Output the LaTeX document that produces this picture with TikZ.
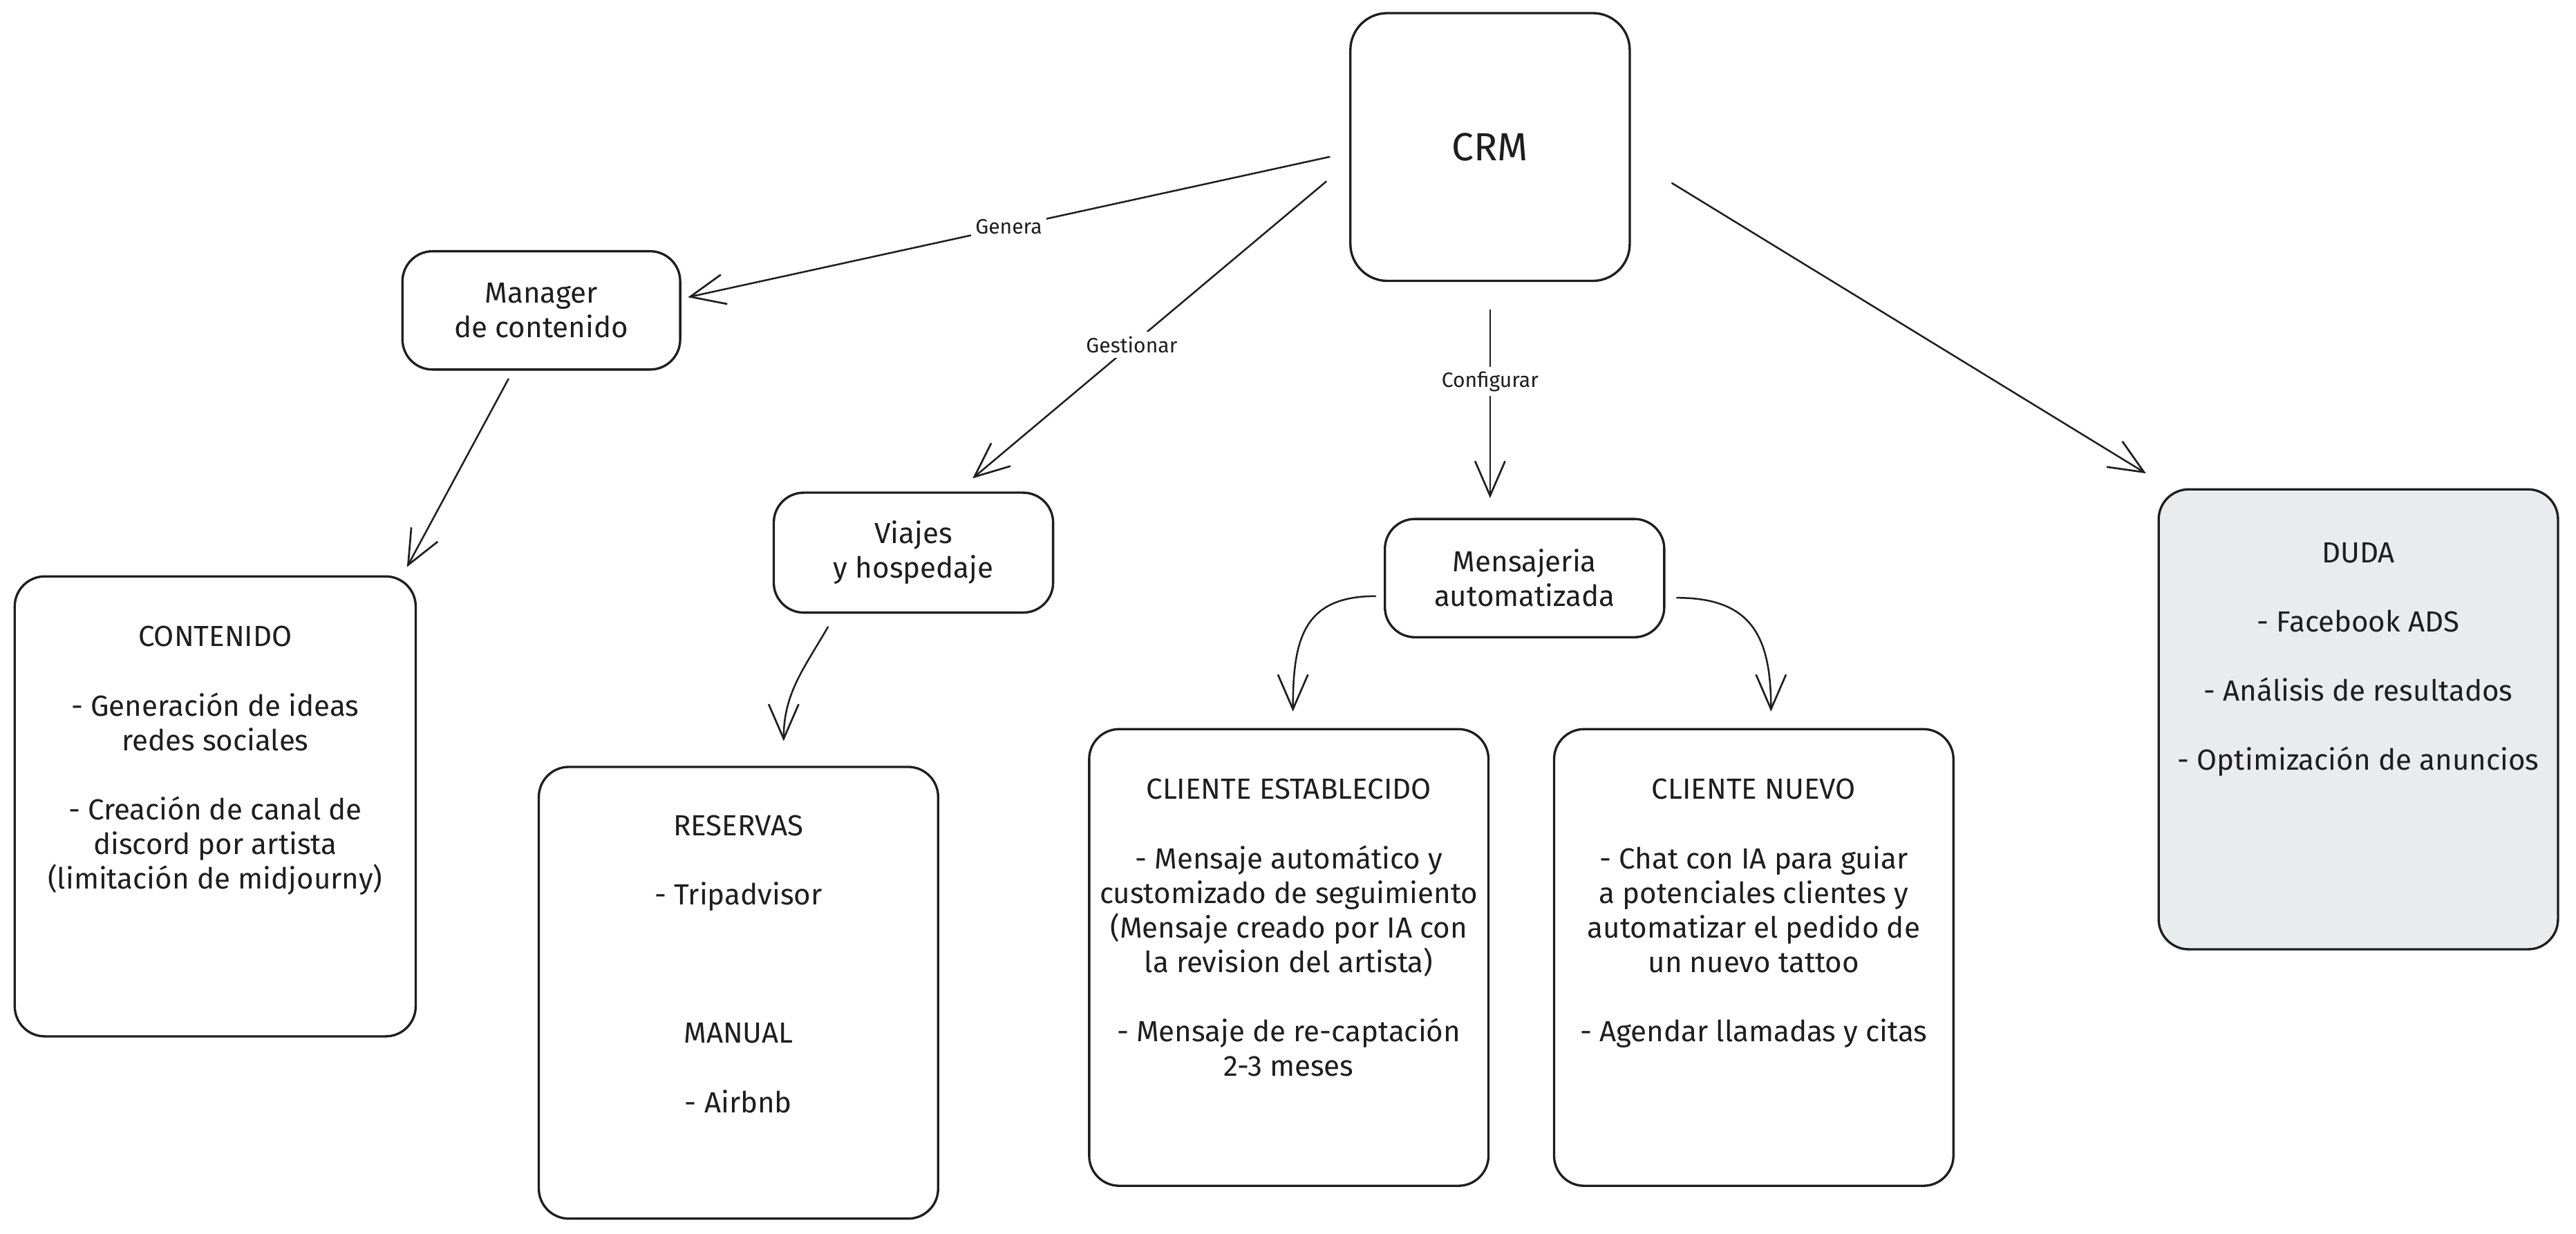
\documentclass[tikz,border=0pt]{standalone}
\usepackage{fontspec}
\setmainfont{Fira Sans}
\usetikzlibrary{arrows.meta,calc}
\definecolor{ink}{HTML}{1E1E1E}
\definecolor{dudafill}{HTML}{E9ECEF}
\begin{document}
\begin{tikzpicture}[x=0.025cm,y=-0.025cm,
  box/.style={draw=ink, line width=1pt, rounded corners=13pt, inner sep=0pt, fill=white,
    text=ink, align=center, font=\fontsize{12.6}{15}\selectfont},
  txt/.style={text=ink, align=center, inner sep=0pt, font=\fontsize{12.6}{15}\selectfont, anchor=north},
  lbl/.style={text=ink, fill=white, inner sep=2pt, font=\fontsize{9}{11}\selectfont},
  arr/.style={draw=ink, line width=0.75pt, line cap=round, -{Straight Barb[length=15pt,width=13pt,line width=0.8pt]}},
]
\useasboundingbox[fill=white] (0,0) rectangle (1568,751);

% top level
\node[box, rounded corners=16pt, minimum width=4.25cm, minimum height=4.075cm,
      font=\fontsize{17}{20}\selectfont] (crm) at (907,89.5) {CRM};

% second level
\node[box, minimum width=4.225cm, minimum height=1.8cm] (mgr) at (329.5,189) {Manager\\de contenido};
\node[box, minimum width=4.25cm, minimum height=1.825cm] (via) at (556,336.5) {Viajes\\y hospedaje};
\node[box, minimum width=4.25cm, minimum height=1.8cm] (msg) at (928,352) {Mensajeria\\automatizada};

% big boxes
\node[box, minimum width=6.1cm, minimum height=7.0cm] (cont) at (131,491) {};
\node[box, minimum width=6.075cm, minimum height=6.875cm] (res) at (449.5,604.5) {};
\node[box, minimum width=6.075cm, minimum height=6.95cm] (est) at (784.5,583) {};
\node[box, minimum width=6.075cm, minimum height=6.95cm] (nue) at (1067.5,583) {};
\node[box, fill=dudafill, minimum width=6.075cm, minimum height=7.0cm] (duda) at (1435.5,438) {};

\node[txt] (tcont) at (131,381) {CONTENIDO\\[15pt]- Generación de ideas\\redes sociales\\[15pt]- Creación de canal de\\discord por artista\\(limitación de midjourny)};
\node[txt] (tres) at (449.5,496) {RESERVAS\\[15pt]- Tripadvisor\\[45pt]MANUAL\\[15pt]- Airbnb};
\node[txt] (test) at (784.5,474) {CLIENTE ESTABLECIDO\\[15pt]- Mensaje automático y\\customizado de seguimiento\\(Mensaje creado por IA con\\la revision del artista)\\[15pt]- Mensaje de re-captación\\2-3 meses};
\node[txt] (tnue) at (1067.5,474) {CLIENTE NUEVO\\[15pt]- Chat con IA para guiar\\a potenciales clientes y\\automatizar el pedido de\\un nuevo tattoo\\[15pt]- Agendar llamadas y citas};
\node[txt] (tduda) at (1435.5,330) {DUDA\\[15pt]- Facebook ADS\\[15pt]- Análisis de resultados\\[15pt]- Optimización de anuncios};

% connectors
\draw[arr] ($(crm.west)+(-12,6)$) -- node[lbl, pos=0.5] (lgen) {Genera} ($(mgr.east)+(4,-8)$);
\draw[arr] ($(crm.west)+(-14,21)$) -- node[lbl, pos=0.55] (lges) {Gestionar} ($(via.north)+(36,-8)$);
\draw[arr] ($(crm.south)+(0,17)$) -- node[lbl, pos=0.38] (lcfg) {Configurar} ($(msg.north)+(-21,-12)$);
\draw[arr] ($(crm.east)+(25,22)$) -- ($(duda.north west)+(-7,-9)$);
\draw[arr] ($(mgr.south)+(-20,5)$) -- ($(cont.north east)+(-6,-5)$);
\draw[arr] ($(via.south)+(-52,8)$) to[out=-120, in=90] ($(res.north)+(27.5,-15)$);
\draw[arr] ($(msg.west)+(-5,11)$) to[out=180, in=90, looseness=1.3] ($(est.north)+(2.5,-10)$);
\draw[arr] ($(msg.east)+(7,12)$) to[out=0, in=90, looseness=1.3] ($(nue.north)+(10.5,-10)$);
\end{tikzpicture}
\end{document}
